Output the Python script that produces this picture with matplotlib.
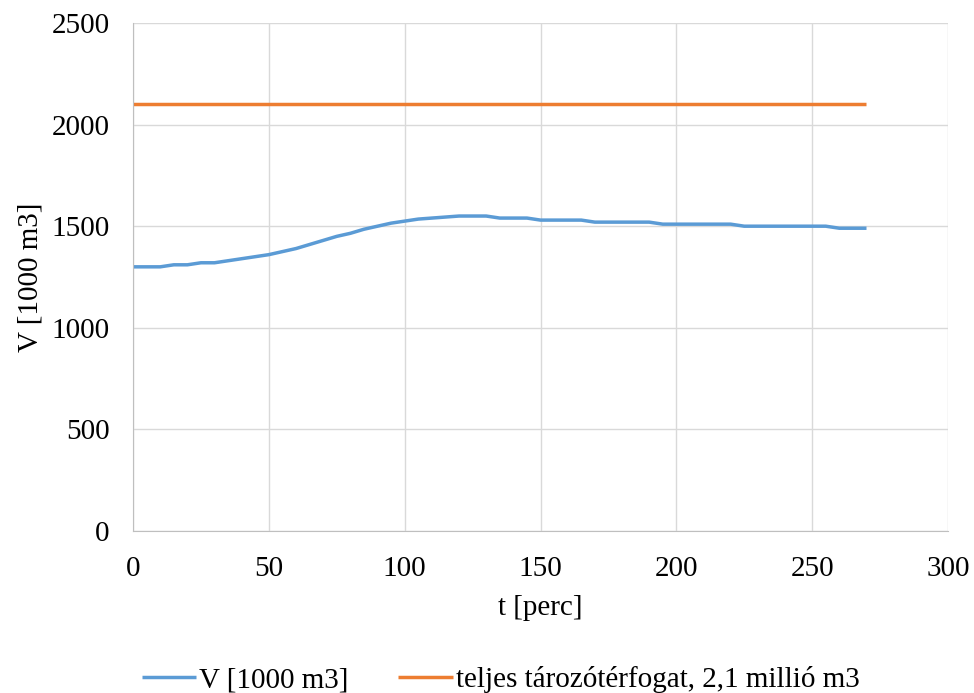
import matplotlib
matplotlib.use("Agg")
import matplotlib.pyplot as plt

plt.rcParams['font.family'] = ['Liberation Serif', 'DejaVu Serif']

t = [0, 5, 10, 15, 20, 25, 30, 35, 40, 45, 50, 55, 60, 65, 70, 75, 80, 85, 90, 95,
     100, 105, 110, 115, 120, 125, 130, 135, 140, 145, 150, 155, 160, 165, 170, 175,
     180, 185, 190, 195, 200, 205, 210, 215, 220, 225, 230, 235, 240, 245, 250, 255,
     260, 265, 270]
V = [1300, 1300, 1300, 1310, 1310, 1320, 1320, 1330, 1340, 1350, 1360, 1375, 1390,
     1410, 1430, 1450, 1465, 1485, 1500, 1515, 1525, 1535, 1540, 1545, 1550, 1550,
     1550, 1540, 1540, 1540, 1530, 1530, 1530, 1530, 1520, 1520, 1520, 1520, 1520,
     1510, 1510, 1510, 1510, 1510, 1510, 1500, 1500, 1500, 1500, 1500, 1500, 1500,
     1490, 1490, 1490]
t_cap = [0, 270]
V_cap = [2100, 2100]

label_v = "V [1000 m3]"
label_cap = "teljes tározótérfogat, 2,1 millió m3"

FS = 21

fig = plt.figure(figsize=(9.74, 6.93), dpi=100)
ax = fig.add_axes([0.1366, 0.2338, 0.8367, 0.733])

ax.plot(t, V, color='#5b9bd5', lw=2.5, label=label_v, solid_capstyle='butt')
ax.plot(t_cap, V_cap, color='#ed7d31', lw=2.5, label=label_cap, solid_capstyle='butt')

ax.set_xlim(0, 300)
ax.set_ylim(0, 2500)
ax.set_xticks(range(0, 301, 50))
ax.set_yticks(range(0, 2501, 500))
ax.grid(True, color='#d9d9d9', lw=1)
ax.set_axisbelow(True)
for s in ['top', 'right']:
    ax.spines[s].set_visible(False)
for s in ['left', 'bottom']:
    ax.spines[s].set_color('#bfbfbf')
ax.tick_params(length=0, labelsize=FS)
ax.tick_params(axis='x', pad=18)
ax.tick_params(axis='y', pad=17)
ax.set_xlabel("t [perc]", fontsize=FS, va='center')
ax.set_ylabel("V [1000 m3]", fontsize=FS, va='center')
ax.xaxis.set_label_coords(0.5, (531 - 608) / 508)
ax.yaxis.set_label_coords((30 - 133) / 815, 0.5)

leg = fig.legend(loc='center', bbox_to_anchor=(0.514, 0.019), ncol=2, frameon=False,
                 fontsize=FS, handlelength=1.88, handletextpad=0.1, columnspacing=1.7,
                 borderaxespad=0, borderpad=0)

fig.savefig("out.png", dpi=100)
